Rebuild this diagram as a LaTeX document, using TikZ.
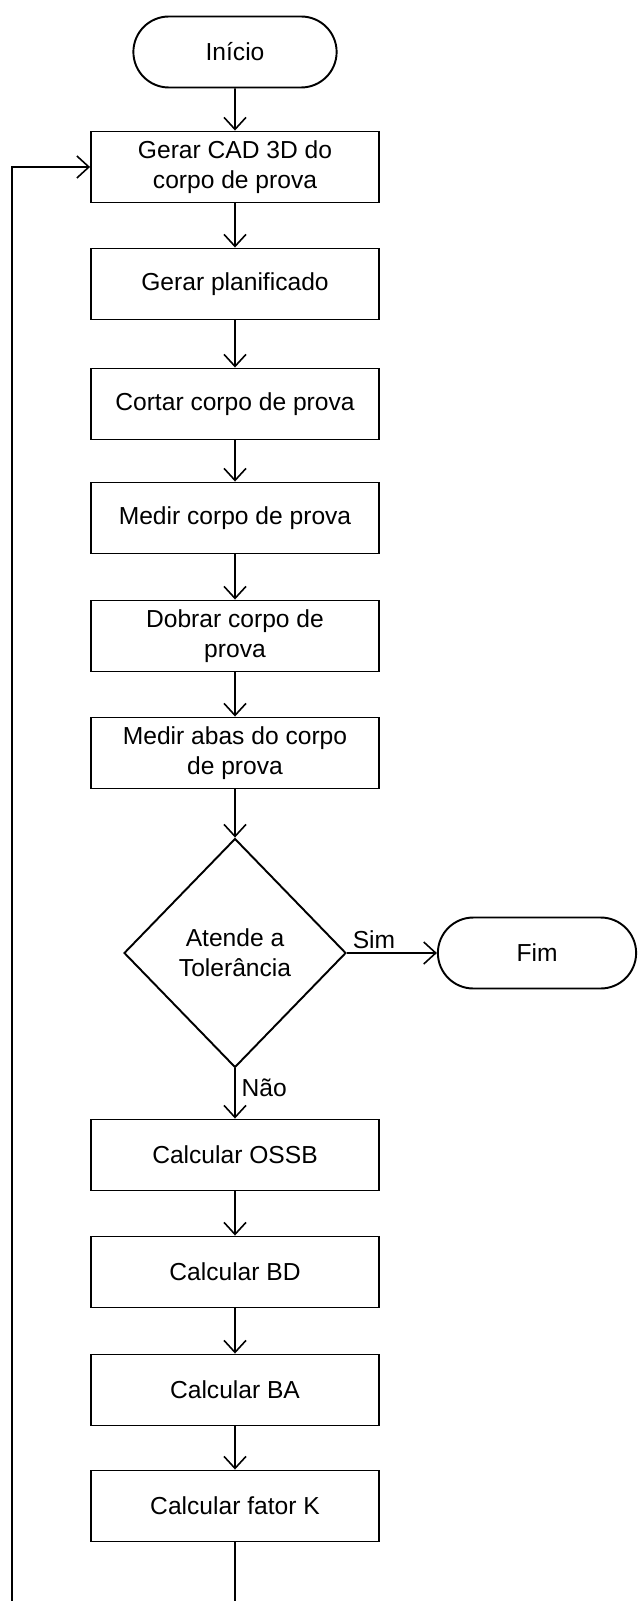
\documentclass[tikz,border=0pt]{standalone}
\usepackage{fontspec}
\setmainfont{Liberation Sans}
\usetikzlibrary{shapes.geometric,shapes.misc,arrows.meta}

\begin{document}
\begin{tikzpicture}[x=0.02cm,y=-0.02cm,
    every node/.style={font=\fontsize{14}{17}\selectfont},
    processo/.style={draw, line width=1.1pt, minimum width=5.76cm, minimum height=1.42cm, align=center},
    terminal/.style={draw, line width=1.1pt, rounded rectangle, minimum width=4.3cm, minimum height=1.42cm},
    decisao/.style={draw, line width=1.1pt, diamond, minimum width=4.44cm, minimum height=4.58cm, align=center, inner sep=0pt},
    seta/.style={line width=0.9pt, -{Straight Barb[length=2.4mm,width=4.4mm]}}]
    % Margens
    \useasboundingbox (0,0) rectangle (638,1601);

    % Inicio e etapas
    \node[terminal] (inicio) at (235,52) {Início};
    \node[processo] (cad) at (235,167) {Gerar CAD 3D do\\corpo de prova};
    \node[processo] (planif) at (235,284) {Gerar planificado};
    \node[processo] (cortar) at (235,404) {Cortar corpo de prova};
    \node[processo] (medir) at (235,518) {Medir corpo de prova};
    \node[processo] (dobrar) at (235,636) {Dobrar corpo de\\prova};
    \node[processo] (abas) at (235,753) {Medir abas do corpo\\de prova};

    % Decisao e fim
    \node[decisao] (tol) at (235,953) {Atende a\\Tolerância};
    \node[terminal, minimum width=4.2cm] (fim) at (537,953) {Fim};

    % Calculos
    \node[processo] (ossb) at (235,1155) {Calcular OSSB};
    \node[processo] (bd) at (235,1272) {Calcular BD};
    \node[processo] (ba) at (235,1390) {Calcular BA};
    \node[processo] (fatork) at (235,1506) {Calcular fator K};

    % Setas
    \draw[seta] (inicio) -- (cad);
    \draw[seta] (cad) -- (planif);
    \draw[seta] (planif) -- (cortar);
    \draw[seta] (cortar) -- (medir);
    \draw[seta] (medir) -- (dobrar);
    \draw[seta] (dobrar) -- (abas);
    \draw[seta] (abas) -- (tol);
    \draw[seta] (tol) -- node[above, pos=0.3, inner sep=2pt] {Sim} (fim);
    \draw[seta] (tol) -- node[right, pos=0.38] {Não} (ossb);
    \draw[seta] (ossb) -- (bd);
    \draw[seta] (bd) -- (ba);
    \draw[seta] (ba) -- (fatork);

    % Retorno
    \coordinate (canto) at (12,1606);
    \draw[seta] (fatork.south) |- (canto) |- (cad.west);
\end{tikzpicture}
\end{document}
